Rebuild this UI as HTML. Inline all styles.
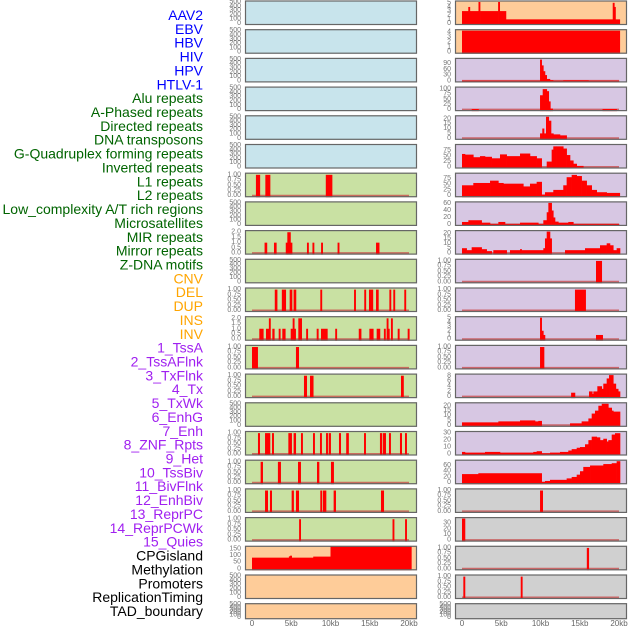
<!DOCTYPE html>
<html><head><meta charset="utf-8"><style>
body{margin:0;background:#fff;}
svg{display:block;font-family:"Liberation Sans",sans-serif;}
</style></head><body>
<svg id="chart" width="630" height="630" viewBox="0 0 630 630" xmlns="http://www.w3.org/2000/svg"></svg>
<script>
// ---- data ----
const trackLabels=["AAV2","EBV","HBV","HIV","HPV","HTLV-1","Alu repeats","A-Phased repeats","Directed repeats","DNA transposons","G-Quadruplex forming repeats","Inverted repeats","L1 repeats","L2 repeats","Low_complexity A/T rich regions","Microsatellites","MIR repeats","Mirror repeats","Z-DNA motifs","CNV","DEL","DUP","INS","INV","1_TssA","2_TssAFlnk","3_TxFlnk","4_Tx","5_TxWk","6_EnhG","7_Enh","8_ZNF_Rpts","9_Het","10_TssBiv","11_BivFlnk","12_EnhBiv","13_ReprPC","14_ReprPCWk","15_Quies","CPGisland","Methylation","Promoters","ReplicationTiming","TAD_boundary"];
const labelGroups=[6,13,5,15,5];
const xTickKb=[0,5,10,15,20];
const xTickLabels=["0","5kb","10kb","15kb","20kb"];
const tEmpty=[0,100,200,300,400,500];
const tBin=[0,0.25,0.5,0.75,1];
const tTwo=[0,0.5,1,1.5,2];
// left column bins [startKb,endKb,value]
const L6=[[0.5,1.0,1],[1.7,2.3,1],[9.4,10.2,1]];
const L8=[[1.6,1.9,1],[2.8,3.1,1],[4.3,4.5,1],[4.5,4.9,2],[4.9,5.1,1],[7.0,7.2,1],[7.7,7.9,1],[8.8,9.0,1],[10.9,11.1,1],[15.8,16.2,1]];
const L10=[[2.9,3.2,1],[3.8,4.3,1],[4.8,5.1,1],[5.3,5.6,1],[8.7,8.9,1],[13.0,13.2,1],[14.3,14.5,1],[14.9,15.4,1],[15.8,16.1,1],[17.5,17.7,1],[18.0,18.2,1],[19.4,19.6,1]];
const L11=[[0.93,1.44,1],[1.78,2.15,1],[2.15,2.29,2],[2.59,2.84,1],[3.4,3.55,1],[3.86,4.24,1],[4.93,5.18,1],[5.18,5.3,2],[5.3,5.56,1],[5.9,6.33,2],[6.9,7.05,1],[8.24,8.45,1],[8.79,9.6,1],[10.6,10.75,1],[13.6,13.9,1],[14.95,15.45,1],[15.88,16.3,1],[16.8,16.95,1],[17.15,17.3,2],[17.3,17.5,1],[17.7,17.85,2],[18.56,18.77,1],[19.83,20.04,1]];
const L12=[[0,0.72,1],[5.6,5.95,1]];
const L13=[[6.62,6.97,1],[7.39,7.8,1],[18.98,19.3,1]];
const L15=[[0.76,0.98,1],[1.66,2.29,1],[2.55,2.76,1],[4.63,5.05,1],[5.3,5.57,1],[6.24,6.45,1],[7.77,7.98,1],[8.66,8.87,1],[9.43,9.64,1],[9.77,10.02,1],[11.08,11.3,1],[12.0,12.3,1],[14.27,14.48,1],[16.3,16.56,1],[16.69,17.03,1],[17.45,17.66,1],[18.85,19.07,1],[19.49,19.7,1]];
const L16=[[1.1,1.36,1],[3.3,3.65,1],[5.86,6.2,1],[8.28,8.54,1],[10.06,10.4,1]];
const L17=[[1.66,2.0,1],[2.29,2.51,1],[5.05,5.3,1],[5.6,5.95,1],[8.7,8.91,1],[9.04,9.43,1],[10.4,10.66,1],[16.43,16.78,1]];
const L18=[[6.0,6.2,1],[17.9,18.1,1],[19.5,19.7,1]];
const L19=[[0,4.7,85],[4.7,4.85,95],[4.85,5.0,100],[5.0,7.8,85],[7.8,10.0,93],[10.0,20.3,170]];
// right column bins
const R0=[[0,0.8,3],[0.8,1.0,4],[1.0,2.1,3],[2.1,2.3,5.2],[2.3,4.6,3],[4.6,4.8,5.2],[4.8,5.6,3],[5.6,19.2,1],[19.2,19.35,5],[19.35,19.5,4],[19.5,20.1,1]];
const R1=[[0,20.1,4.3]];
const R2=[[0,9.94,1],[9.94,10.15,110],[10.15,10.36,80],[10.36,10.57,50],[10.57,10.79,30],[10.79,11.2,10],[11.2,11.6,4],[11.6,12.9,1],[12.9,16.1,3],[16.1,20,1]];
const R3=[[1.24,2.1,3],[9.94,10.28,70],[10.28,10.8,100],[10.8,11.05,90],[11.05,11.2,40],[11.2,11.55,5],[17.9,19.7,3]];
const R4=[[9.94,10.23,5],[10.23,10.45,10],[10.45,10.7,5],[10.7,11.05,22],[11.05,11.34,18],[11.34,11.64,5],[11.64,12.48,4],[12.48,13.33,3]];
const R5=[[0,0.38,60],[0.38,1.44,57],[1.44,2.29,45],[2.29,2.93,50],[2.93,3.78,47],[3.78,4.84,40],[4.84,5.69,58],[5.69,7.39,50],[7.39,8.66,62],[8.66,9.51,50],[9.51,10.15,40],[10.79,11.42,25],[11.42,11.63,80],[11.63,12.06,95],[12.06,12.9,95],[12.9,13.33,85],[13.33,13.76,55],[13.76,14.18,30],[14.18,14.61,15],[14.61,15.45,5]];
const R6=[[0,1.44,45],[1.44,3.57,55],[3.57,4.63,65],[4.63,5.27,55],[5.27,7.81,52],[7.81,8.66,40],[8.66,9.51,52],[9.51,10.15,60],[10.15,10.57,5],[10.57,11.63,15],[11.63,12.9,25],[12.9,13.33,45],[13.33,13.97,80],[13.97,14.61,90],[14.61,15.24,85],[15.24,15.88,65],[15.88,16.52,45],[16.52,17.16,25],[17.16,18.43,15],[18.43,20.1,12]];
const R7=[[0,0.81,7],[0.81,2.5,12],[2.5,3.57,5],[3.57,4.63,1],[4.63,5.48,7],[5.48,7.39,1],[7.39,9.72,5],[9.72,10.36,1],[10.36,10.79,12],[10.79,11.0,35],[11.0,11.42,62],[11.42,11.63,40],[11.63,11.85,20],[11.85,12.27,8],[12.27,13.54,5],[13.54,14.18,7],[14.18,20,1]];
const R8=[[0,0.59,5],[0.59,1.23,3],[1.23,2.5,6],[2.5,3.14,4],[3.14,3.78,2],[3.99,5.69,3],[6.11,7.39,3],[7.39,7.6,4],[7.6,10.36,3],[10.36,10.57,5],[10.57,10.79,15],[10.79,11.21,22],[11.21,11.42,15],[13.12,15.67,3],[15.67,17.58,5],[17.58,18.43,8],[18.43,18.85,10],[18.85,19.27,8],[19.27,19.7,3],[19.7,20.13,5]];
const R9=[[17.07,17.8,1]];
const R10=[[14.39,15.75,1]];
const R11=[[9.94,10.15,5.1],[10.15,10.36,2],[10.36,10.57,1],[17.07,17.92,1]];
const R12=[[9.94,10.45,1]];
const R13=[[13.9,14.39,1.5],[16.18,16.6,2],[16.6,16.73,1],[16.73,17.24,2],[17.24,17.8,4],[17.8,18.0,3],[18.0,18.43,5],[18.43,18.73,7],[18.73,19.27,8.3],[19.27,19.6,5],[19.6,19.9,3],[19.9,20.13,2]];
const R14=[[0,4.63,3],[4.63,7.39,4],[7.39,9.3,5],[9.3,9.72,4],[9.72,10.15,4.5],[13.76,15.24,2],[15.24,16.1,4],[16.1,16.52,7],[16.52,16.94,12],[16.94,17.37,15],[17.37,17.8,20],[17.8,18.64,22],[18.64,19.07,18],[19.07,19.27,15],[19.27,20.13,14]];
const R15=[[0,0.38,3],[0.38,2.93,2],[2.93,4.84,3],[4.84,9.08,2],[9.08,9.51,3],[9.51,10.15,4],[10.15,11.21,1],[11.21,12.48,2],[12.48,13.54,3],[13.54,13.97,5],[13.97,14.61,7],[14.61,15.03,9],[15.03,15.67,10],[15.67,16.1,14],[16.1,16.52,20],[16.52,17.16,25],[17.16,17.58,24],[17.58,18.0,20],[18.0,18.43,22],[18.43,18.64,18],[18.64,19.07,20],[19.07,19.49,28],[19.49,20.13,30]];
const R16=[[0,2.08,30],[2.08,10.15,33],[10.15,10.57,3],[10.57,11.21,6],[11.21,13.33,10],[13.33,13.97,15],[13.97,14.61,20],[14.61,15.03,28],[15.03,15.45,40],[15.45,16.31,55],[16.31,18.0,60],[18.0,19.07,65],[19.07,19.7,68],[19.7,20.13,75]];
const R17=[[9.94,10.28,1]];
const R18=[[0,0.38,38]];
const R19=[[15.9,16.15,1]];
const R20=[[0.17,0.38,1],[7.48,7.68,1]];

const BLUE="#c8e4ec",GREEN="#c9e1a3",PEACH="#fecc99",LAV="#d7c7e3",GRAY="#d0d0d0";
const leftBg=[BLUE,BLUE,BLUE,BLUE,BLUE,BLUE,GREEN,GREEN,GREEN,GREEN,GREEN,GREEN,GREEN,GREEN,GREEN,GREEN,GREEN,GREEN,GREEN,PEACH,PEACH,PEACH];
const rightBg=[PEACH,PEACH,LAV,LAV,LAV,LAV,LAV,LAV,LAV,LAV,LAV,LAV,LAV,LAV,LAV,LAV,LAV,GRAY,GRAY,GRAY,GRAY,GRAY];
const leftData=[null,null,null,null,null,null,L6,null,L8,null,L10,L11,L12,L13,null,L15,L16,L17,L18,L19,null,null];
const leftMax=[500,500,500,500,500,500,1.03,500,2.06,500,1.03,2.06,1.03,1.03,500,1.03,1.03,1.03,1.03,164,500,500];
const leftTicks=[tEmpty,tEmpty,tEmpty,tEmpty,tEmpty,tEmpty,tBin,tEmpty,tTwo,tEmpty,tBin,tTwo,tBin,tBin,tEmpty,tBin,tBin,tBin,tBin,[0,50,100,150],tEmpty,tEmpty];
const rightData=[R0,R1,R2,R3,R4,R5,R6,R7,R8,R9,R10,R11,R12,R13,R14,R15,R16,R17,R18,R19,R20,null];
const rightMax=[5.2,4.3,111,105,22,99,93,62,22,1.03,1.03,5.1,1.03,8.3,22,31,75,1.03,38,1.03,1.03,500];
const rightTicks=[[0,1,2,3,4,5],[0,1,2,3,4],[0,30,60,90],[0,25,50,75,100],[0,5,10,15,20],[0,25,50,75],[0,25,50,75],[0,20,40,60],[0,5,10,15,20],tBin,tBin,[0,1,2,3,4,5],tBin,[0,2,4,6,8],[0,5,10,15,20],[0,10,20,30],[0,20,40,60],tBin,[0,10,20,30],tBin,tBin,tEmpty];

// ---- drawing ----
const NS="http://www.w3.org/2000/svg";
const svg=document.getElementById("chart");
function mk(tag,attrs,parent){const e=document.createElementNS(NS,tag);for(const k in attrs)e.setAttribute(k,attrs[k]);(parent||svg).appendChild(e);return e;}
const colX=[245,455],colW=172;
function xKb(kb,side){return colX[side]+7+kb*7.85;}
function rowTop(r){return r*28.7+0.5;}
function rowH(r){return r===21?16:24.5;}
function yVal(v,r,max){const t=rowTop(r),h=rowH(r);return t+h-1.5-(v/max)*(h-3);}
function fmt(v,ticks){const bin=ticks===tBin;if(bin)return v.toFixed(2);if(ticks===tTwo)return v.toFixed(1);return String(v);}

// labels
let idx=0;const gColors=["#0000ff","#006400","#ffa500","#a020f0","#000000"];
const lg=mk("g",{});


labelGroups.forEach((n,g)=>{for(let i=0;i<n;i++){const t=mk("text",{x:203,y:15+idx*13.86,"text-anchor":"end","dominant-baseline":"central","font-size":"14",fill:gColors[g]},lg);t.textContent=trackLabels[idx];idx++;}});

function drawPanel(side,r){
  const bg=side?rightBg[r]:leftBg[r],data=side?rightData[r]:leftData[r],max=side?rightMax[r]:leftMax[r],ticks=side?rightTicks[r]:leftTicks[r];
  const g=mk("g",{});
  
  
  const t=rowTop(r),h=rowH(r);
  const cid="c"+side+"_"+r;
  const cp=mk("clipPath",{id:cid},g);mk("rect",{x:colX[side],y:t,width:colW,height:h},cp);
  const bgR=mk("rect",{x:colX[side],y:t,width:colW,height:h,fill:bg},g);
  
  
  const dg=mk("g",{"clip-path":"url(#"+cid+")"},g);
  if(data){
    const base=mk("line",{x1:xKb(0,side),x2:xKb(20,side),y1:yVal(0,r,max),y2:yVal(0,r,max),stroke:"rgba(200,70,70,0.75)","stroke-width":2},dg);
    
    
    data.forEach(d=>{
      const x1=xKb(d[0],side),x2=Math.max(xKb(d[1],side),x1+1.6);
      const y=yVal(d[2],r,max);
      const b=mk("rect",{x:x1,y:y-0.01,width:x2-x1+0.3,height:t+h-y+1,fill:"#ff0000"},dg);
      
      
    });
  }
  const br=mk("rect",{x:colX[side]+0.5,y:t+0.5,width:colW-1,height:h-1,fill:"none",stroke:"#666","stroke-width":1.2},g);
  
  
  ticks.forEach(v=>{
    const tx=mk("text",{x:colX[side]-4,y:yVal(v,r,max),"text-anchor":"end","dominant-baseline":"central","font-size":"7",fill:"#777"},g);
    tx.textContent=fmt(v,ticks);
    
    
  });
}
for(let r=0;r<22;r++){drawPanel(0,r);drawPanel(1,r);}
[0,1].forEach(side=>{xTickKb.forEach((kb,i)=>{
  const tx=mk("text",{x:xKb(kb,side),y:626,"text-anchor":"middle","font-size":"8",fill:"#666"});
  tx.textContent=xTickLabels[i];
  
  
});});
</script>
</body></html>
